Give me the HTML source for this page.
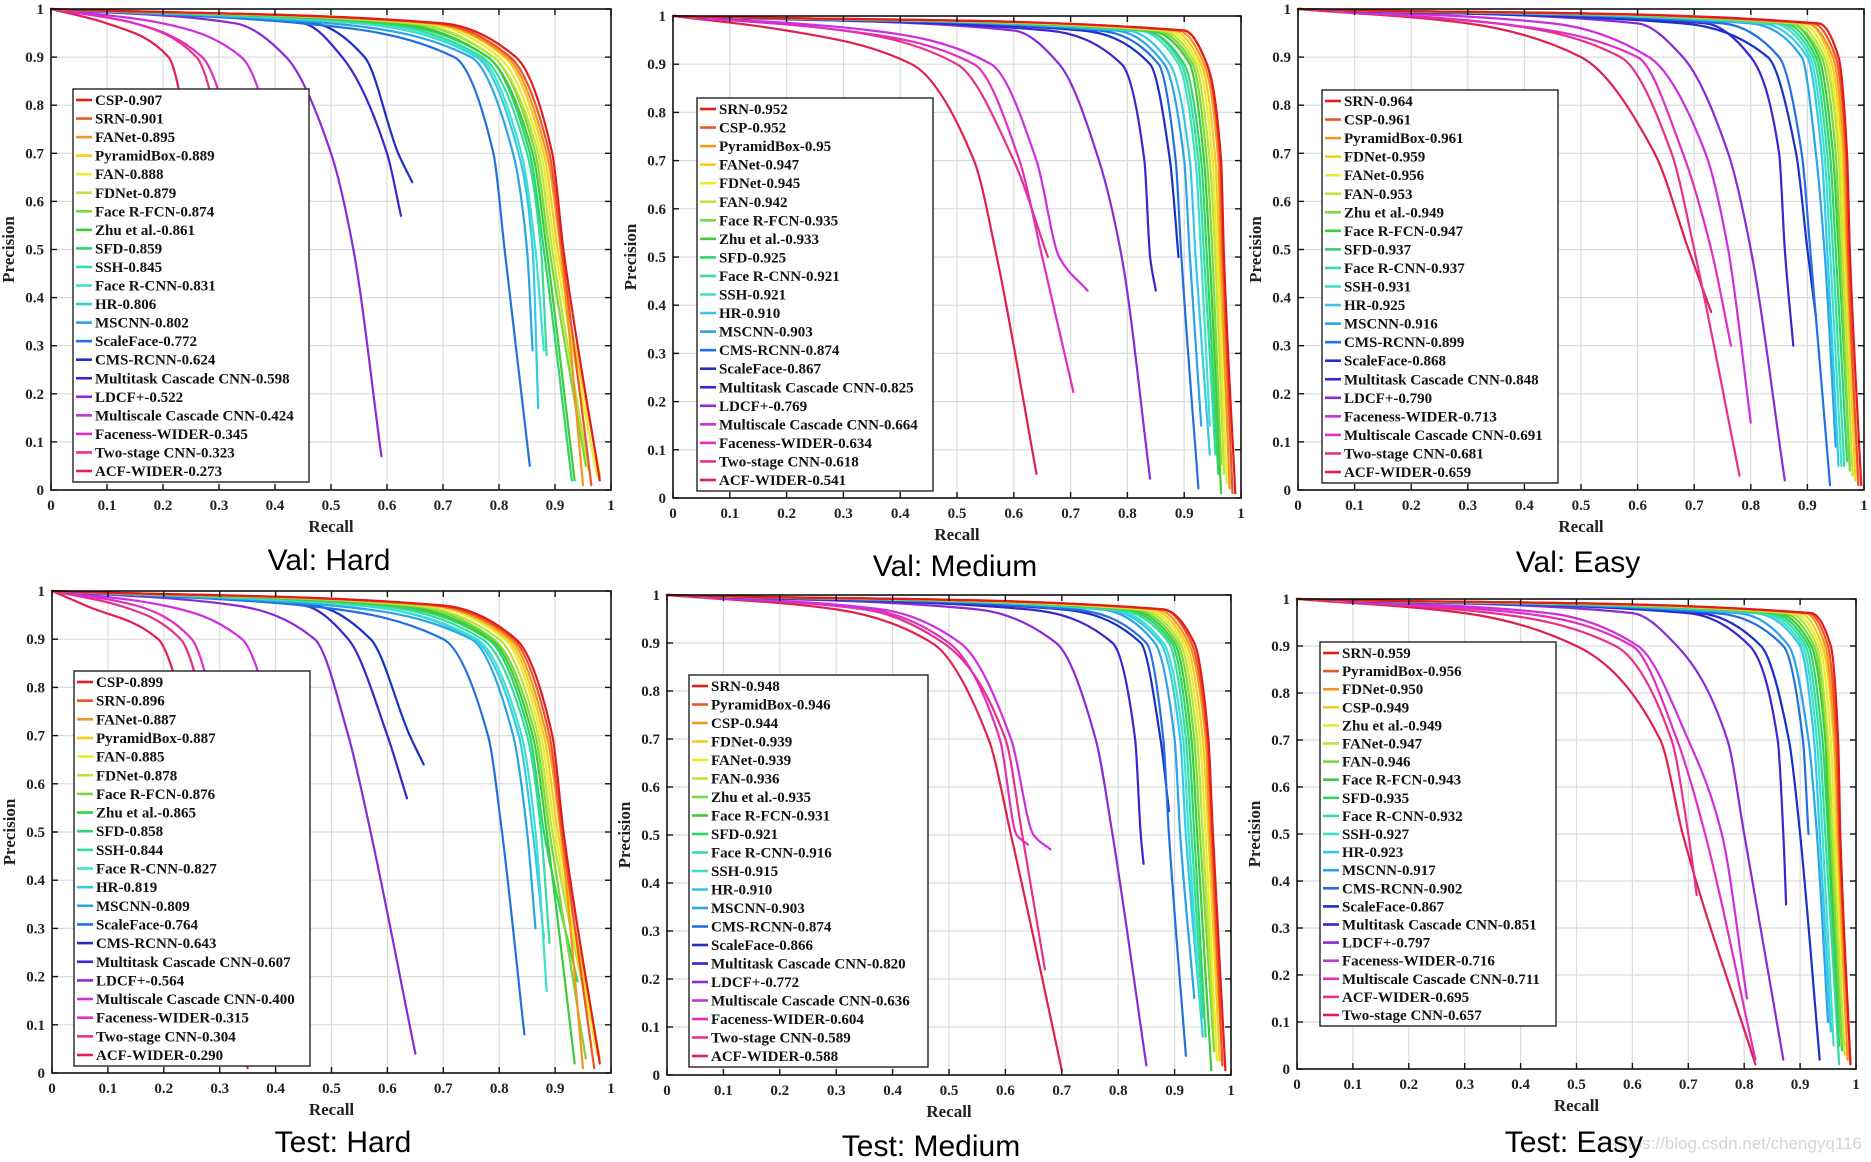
<!DOCTYPE html>
<html><head><meta charset="utf-8"><style>
html,body{margin:0;padding:0;background:#fff;}
svg{display:block;}
.tk{font-family:"Liberation Serif",serif;font-weight:bold;font-size:15px;fill:#222;}
.ax{font-family:"Liberation Serif",serif;font-weight:bold;font-size:17px;fill:#222;}
.lg{font-family:"Liberation Serif",serif;font-weight:bold;font-size:15px;fill:#111;}
.tt{font-family:"Liberation Sans",sans-serif;font-size:30px;fill:#000;}
</style></head><body>
<svg id="fig" xmlns="http://www.w3.org/2000/svg" width="1871" height="1162" viewBox="0 0 1871 1162">
<rect width="1871" height="1162" fill="#fff"/>
<text class="tt" x="1862" y="1149" text-anchor="end" style="font-size:17px;fill:#d4d4d4">https://blog.csdn.net/chengyq116</text>
</svg>
<script>
// ---------- data ----------
const precisionLevels = [0.97, 0.9, 0.7, 0.5];
const tickLabels = ["0","0.1","0.2","0.3","0.4","0.5","0.6","0.7","0.8","0.9","1"];
const rankColors = ["#e41a1c","#e8562a","#f5941e","#f5cc1a","#e8ec2c","#b8e43c","#7cd83a","#3ccc3a","#30d46a","#36dca0","#3ee0cc","#36c8e6","#2aa4e8","#2270e0","#1a30c8","#3c24d0","#8a2ad8","#cc2ee0","#e02ec0","#e8308a","#e0204e"];

// Val: Hard
const valHardNames = ["CSP-0.907","SRN-0.901","FANet-0.895","PyramidBox-0.889","FAN-0.888","FDNet-0.879","Face R-FCN-0.874","Zhu et al.-0.861","SFD-0.859","SSH-0.845","Face R-CNN-0.831","HR-0.806","MSCNN-0.802","ScaleFace-0.772","CMS-RCNN-0.624","Multitask Cascade CNN-0.598","LDCF+-0.522","Multiscale Cascade CNN-0.424","Faceness-WIDER-0.345","Two-stage CNN-0.323","ACF-WIDER-0.273"];
const valHardR97 = [.70,.69,.68,.68,.67,.65,.64,.62,.60,.58,.55,.55,.50,.45,.47,.45,.33,.20,.15,.15,.10];
const valHardR90 = [.83,.82,.815,.81,.80,.79,.79,.78,.78,.77,.765,.76,.75,.72,.56,.52,.42,.34,.27,.26,.21];
const valHardR70 = [.895,.89,.885,.88,.875,.87,.865,.86,.855,.85,.84,.835,.825,.79,.62,.60,.50,.40,.33,.31,.25];
const valHardR50 = [.915,.912,.91,.905,.90,.895,.89,.885,.88,.875,.865,.86,.85,.81,.66,.65,.54,.42,.36,.34,.28];
const valHardEndR = [.98,.965,.95,.98,.975,.96,.955,.935,.93,.885,.88,.87,.86,.855,.645,.625,.59,.45,.40,.38,.32];
const valHardEndP = [.02,.01,.01,.03,.03,.04,.05,.02,.02,.28,.29,.17,.29,.05,.64,.57,.07,.30,.30,.30,.30];

// Val: Medium
const valMedNames = ["SRN-0.952","CSP-0.952","PyramidBox-0.95","FANet-0.947","FDNet-0.945","FAN-0.942","Face R-FCN-0.935","Zhu et al.-0.933","SFD-0.925","Face R-CNN-0.921","SSH-0.921","HR-0.910","MSCNN-0.903","CMS-RCNN-0.874","ScaleFace-0.867","Multitask Cascade CNN-0.825","LDCF+-0.769","Multiscale Cascade CNN-0.664","Faceness-WIDER-0.634","Two-stage CNN-0.618","ACF-WIDER-0.541"];
const valMedR97 = [.90,.90,.89,.88,.87,.86,.85,.84,.83,.83,.82,.80,.78,.75,.72,.66,.60,.35,.30,.30,.20];
const valMedR90 = [.94,.94,.935,.93,.925,.92,.915,.91,.90,.895,.89,.875,.865,.855,.84,.79,.68,.56,.53,.50,.42];
const valMedR70 = [.965,.963,.96,.955,.95,.945,.94,.935,.93,.925,.92,.91,.90,.885,.875,.83,.75,.64,.61,.60,.53];
const valMedR50 = [.97,.968,.965,.962,.958,.955,.95,.945,.94,.935,.93,.92,.91,.895,.885,.84,.79,.68,.65,.63,.57];
const valMedEndR = [.99,.985,.98,.98,.975,.97,.965,.965,.96,.955,.945,.945,.93,.925,.89,.85,.84,.73,.705,.66,.64];
const valMedEndP = [.01,.01,.02,.03,.03,.05,.07,.01,.05,.09,.15,.09,.15,.02,.50,.43,.04,.43,.22,.50,.05];

// Val: Easy
const valEasyNames = ["SRN-0.964","CSP-0.961","PyramidBox-0.961","FDNet-0.959","FANet-0.956","FAN-0.953","Zhu et al.-0.949","Face R-FCN-0.947","SFD-0.937","Face R-CNN-0.937","SSH-0.931","HR-0.925","MSCNN-0.916","CMS-RCNN-0.899","ScaleFace-0.868","Multitask Cascade CNN-0.848","LDCF+-0.790","Faceness-WIDER-0.713","Multiscale Cascade CNN-0.691","Two-stage CNN-0.681","ACF-WIDER-0.659"];
const valEasyR97 = [.92,.91,.90,.90,.89,.88,.87,.87,.86,.85,.84,.82,.80,.75,.68,.72,.60,.45,.35,.35,.30];
const valEasyR90 = [.955,.95,.945,.94,.935,.93,.925,.92,.915,.91,.905,.90,.89,.85,.83,.80,.68,.62,.60,.57,.50];
const valEasyR70 = [.97,.968,.965,.962,.958,.955,.95,.945,.94,.935,.93,.925,.915,.89,.88,.85,.76,.72,.68,.66,.63];
const valEasyR50 = [.975,.972,.97,.968,.965,.962,.958,.955,.95,.945,.94,.935,.93,.905,.90,.86,.80,.76,.73,.70,.69];
const valEasyEndR = [.995,.99,.99,.985,.985,.98,.975,.975,.97,.965,.96,.955,.95,.94,.915,.875,.86,.80,.765,.78,.73];
const valEasyEndP = [.01,.01,.02,.02,.03,.03,.04,.05,.06,.05,.05,.05,.09,.01,.36,.30,.02,.14,.30,.03,.37];

// Test: Hard
const testHardNames = ["CSP-0.899","SRN-0.896","FANet-0.887","PyramidBox-0.887","FAN-0.885","FDNet-0.878","Face R-FCN-0.876","Zhu et al.-0.865","SFD-0.858","SSH-0.844","Face R-CNN-0.827","HR-0.819","MSCNN-0.809","ScaleFace-0.764","CMS-RCNN-0.643","Multitask Cascade CNN-0.607","LDCF+-0.564","Multiscale Cascade CNN-0.400","Faceness-WIDER-0.315","Two-stage CNN-0.304","ACF-WIDER-0.290"];
const testHardR97 = [.70,.69,.68,.68,.67,.65,.64,.62,.60,.58,.55,.55,.50,.45,.47,.45,.33,.20,.15,.12,.06];
const testHardR90 = [.83,.825,.82,.815,.81,.80,.79,.785,.78,.77,.76,.755,.75,.70,.57,.53,.47,.34,.25,.23,.19];
const testHardR70 = [.895,.89,.885,.88,.875,.87,.865,.86,.855,.85,.84,.835,.825,.78,.64,.60,.53,.40,.30,.28,.25];
const testHardR50 = [.915,.912,.91,.905,.90,.895,.89,.885,.88,.875,.865,.86,.85,.805,.66,.63,.57,.43,.33,.30,.30];
const testHardEndR = [.98,.97,.95,.98,.975,.96,.955,.935,.94,.89,.885,.88,.865,.845,.665,.635,.65,.45,.38,.35,.35];
const testHardEndP = [.02,.01,.01,.03,.04,.12,.03,.02,.19,.27,.17,.28,.30,.08,.64,.57,.04,.40,.30,.30,.01];

// Test: Medium
const testMedNames = ["SRN-0.948","PyramidBox-0.946","CSP-0.944","FDNet-0.939","FANet-0.939","FAN-0.936","Zhu et al.-0.935","Face R-FCN-0.931","SFD-0.921","Face R-CNN-0.916","SSH-0.915","HR-0.910","MSCNN-0.903","CMS-RCNN-0.874","ScaleFace-0.866","Multitask Cascade CNN-0.820","LDCF+-0.772","Multiscale Cascade CNN-0.636","Faceness-WIDER-0.604","Two-stage CNN-0.589","ACF-WIDER-0.588"];
const testMedR97 = [.88,.88,.87,.86,.85,.84,.83,.82,.81,.80,.79,.78,.77,.72,.70,.64,.55,.38,.36,.35,.30];
const testMedR90 = [.935,.93,.925,.92,.915,.91,.905,.90,.895,.89,.88,.875,.865,.85,.84,.79,.69,.52,.50,.49,.47];
const testMedR70 = [.96,.958,.955,.95,.945,.94,.935,.93,.925,.92,.915,.91,.90,.88,.875,.83,.76,.61,.59,.60,.57];
const testMedR50 = [.968,.966,.963,.96,.955,.95,.945,.94,.935,.93,.925,.92,.91,.89,.885,.84,.79,.65,.62,.63,.61];
const testMedEndR = [.99,.985,.985,.98,.975,.97,.97,.965,.955,.95,.945,.95,.935,.92,.89,.845,.85,.68,.64,.67,.70];
const testMedEndP = [.01,.02,.02,.03,.03,.09,.05,.01,.08,.12,.14,.08,.16,.04,.55,.44,.02,.47,.48,.22,.01];

// Test: Easy
const testEasyNames = ["SRN-0.959","PyramidBox-0.956","FDNet-0.950","CSP-0.949","Zhu et al.-0.949","FANet-0.947","FAN-0.946","Face R-FCN-0.943","SFD-0.935","Face R-CNN-0.932","SSH-0.927","HR-0.923","MSCNN-0.917","CMS-RCNN-0.902","ScaleFace-0.867","Multitask Cascade CNN-0.851","LDCF+-0.797","Faceness-WIDER-0.716","Multiscale Cascade CNN-0.711","ACF-WIDER-0.695","Two-stage CNN-0.657"];
const testEasyR97 = [.92,.915,.91,.90,.89,.88,.87,.86,.85,.84,.83,.82,.79,.75,.72,.70,.60,.45,.40,.35,.30];
const testEasyR90 = [.955,.95,.945,.94,.935,.93,.925,.92,.915,.91,.905,.90,.88,.87,.83,.81,.68,.61,.60,.57,.50];
const testEasyR70 = [.968,.965,.962,.96,.955,.95,.948,.945,.94,.935,.93,.925,.915,.905,.88,.86,.77,.70,.68,.67,.65];
const testEasyR50 = [.972,.97,.968,.966,.962,.958,.955,.952,.95,.945,.94,.935,.93,.91,.90,.87,.80,.76,.73,.70,.69];
const testEasyEndR = [.99,.99,.985,.985,.985,.98,.975,.975,.97,.97,.96,.955,.95,.915,.935,.875,.87,.805,.82,.715,.82];
const testEasyEndP = [.01,.01,.02,.02,.03,.03,.05,.04,.05,.01,.05,.08,.10,.50,.02,.35,.02,.15,.02,.37,.01];

// ---------- layout (pixels) ----------
const panels = [
  {id:"val-hard", title:"Val: Hard", x0:51,x1:611,y0:490,y1:9, lg:[73,89,236,393], tx:329,ty:570, names:valHardNames,r97:valHardR97,r90:valHardR90,r70:valHardR70,r50:valHardR50,er:valHardEndR,ep:valHardEndP},
  {id:"val-medium", title:"Val: Medium", x0:673,x1:1241,y0:498,y1:16, lg:[697,98,236,393], tx:955,ty:576, names:valMedNames,r97:valMedR97,r90:valMedR90,r70:valMedR70,r50:valMedR50,er:valMedEndR,ep:valMedEndP},
  {id:"val-easy", title:"Val: Easy", x0:1298,x1:1864,y0:490,y1:9, lg:[1322,90,236,393], tx:1578,ty:572, names:valEasyNames,r97:valEasyR97,r90:valEasyR90,r70:valEasyR70,r50:valEasyR50,er:valEasyEndR,ep:valEasyEndP},
  {id:"test-hard", title:"Test: Hard", x0:52,x1:611,y0:1073,y1:591, lg:[74,671,236,395], tx:343,ty:1152, names:testHardNames,r97:testHardR97,r90:testHardR90,r70:testHardR70,r50:testHardR50,er:testHardEndR,ep:testHardEndP},
  {id:"test-medium", title:"Test: Medium", x0:667,x1:1231,y0:1075,y1:595, lg:[689,675,239,392], tx:931,ty:1156, names:testMedNames,r97:testMedR97,r90:testMedR90,r70:testMedR70,r50:testMedR50,er:testMedEndR,ep:testMedEndP},
  {id:"test-easy", title:"Test: Easy", x0:1297,x1:1856,y0:1069,y1:599, lg:[1320,642,236,384], tx:1574,ty:1152, names:testEasyNames,r97:testEasyR97,r90:testEasyR90,r70:testEasyR70,r50:testEasyR50,er:testEasyEndR,ep:testEasyEndP}
];

const NS = "http://www.w3.org/2000/svg";
const fig = document.getElementById("fig");
function mk(tag, attrs, parent){ const e=document.createElementNS(NS,tag); for(const k in attrs) e.setAttribute(k,attrs[k]); parent.appendChild(e); return e; }

// monotone cubic (Fritsch-Carlson) through points with increasing x
function monoPath(pts){
  const n = pts.length;
  const d = [], m = [];
  for(let i=0;i<n-1;i++){ const dx = Math.max(1e-6, pts[i+1][0]-pts[i][0]); d.push((pts[i+1][1]-pts[i][1])/dx); }
  m[0] = d[0]; m[n-1] = d[n-2];
  for(let i=1;i<n-1;i++){
    if(d[i-1]*d[i] <= 0) m[i] = 0;
    else { const w1 = 2*(pts[i+1][0]-pts[i][0]) + (pts[i][0]-pts[i-1][0]); const w2 = (pts[i+1][0]-pts[i][0]) + 2*(pts[i][0]-pts[i-1][0]);
      m[i] = (w1+w2)/(w1/d[i-1] + w2/d[i]); }
  }
  let s = "M"+pts[0][0].toFixed(1)+","+pts[0][1].toFixed(1);
  for(let i=0;i<n-1;i++){
    const h = pts[i+1][0]-pts[i][0];
    s += " C"+(pts[i][0]+h/3).toFixed(1)+","+(pts[i][1]+m[i]*h/3).toFixed(1)+" "+(pts[i+1][0]-h/3).toFixed(1)+","+(pts[i+1][1]-m[i+1]*h/3).toFixed(1)+" "+pts[i+1][0].toFixed(1)+","+pts[i+1][1].toFixed(1);
  }
  return s;
}

panels.forEach(P => {
  const g = mk("g", {}, fig);
  
  
  const sx = r => P.x0 + r*(P.x1-P.x0);
  const sy = p => P.y0 - p*(P.y0-P.y1);
  const grid = mk("g", {stroke:"#dcdcdc","stroke-width":1.2}, g);
  
  
  for(let i=1;i<10;i++){
    mk("line",{x1:sx(i/10),x2:sx(i/10),y1:P.y1,y2:P.y0},grid);
    mk("line",{x1:P.x0,x2:P.x1,y1:sy(i/10),y2:sy(i/10)},grid);
  }
  const cg = mk("g", {fill:"none","stroke-width":2.2,"stroke-linejoin":"round","stroke-linecap":"round"}, g);
  for(let i=P.names.length-1;i>=0;i--){
    const raw = [[0,1],[P.r97[i],precisionLevels[0]],[P.r90[i],precisionLevels[1]]];
    if(precisionLevels[2] > P.ep[i]) raw.push([P.r70[i],precisionLevels[2]]);
    if(precisionLevels[3] > P.ep[i]) raw.push([P.r50[i],precisionLevels[3]]);
    raw.push([P.er[i],P.ep[i]]);
    const pts = raw.map(q => [sx(q[0]), sy(q[1])]);
    const path = mk("path", {d:monoPath(pts), stroke:rankColors[i]}, cg);
    
    
  }
  const box = mk("rect",{x:P.x0,y:P.y1,width:P.x1-P.x0,height:P.y0-P.y1,fill:"none",stroke:"#111","stroke-width":1.6},g);
  
  
  const tg = mk("g",{stroke:"#111","stroke-width":1.4},g);
  for(let i=0;i<=10;i++){
    const x=sx(i/10), y=sy(i/10);
    mk("line",{x1:x,x2:x,y1:P.y0,y2:P.y0-6},tg);
    mk("line",{x1:x,x2:x,y1:P.y1,y2:P.y1+6},tg);
    mk("line",{x1:P.x0,x2:P.x0+6,y1:y,y2:y},tg);
    mk("line",{x1:P.x1,x2:P.x1-6,y1:y,y2:y},tg);
    const xl = mk("text",{class:"tk",x:x,y:P.y0+20,"text-anchor":"middle"},g);
    xl.textContent = tickLabels[i];
    
    
    const yl = mk("text",{class:"tk",x:P.x0-7,y:y+5,"text-anchor":"end"},g);
    yl.textContent = tickLabels[i];
    
    
  }
  const xt = mk("text",{class:"ax",x:(P.x0+P.x1)/2,y:P.y0+42,"text-anchor":"middle"},g);
  xt.textContent="Recall";
  
  
  const yx = P.x0-37, yy=(P.y0+P.y1)/2;
  const yt = mk("text",{class:"ax",x:yx,y:yy,"text-anchor":"middle",transform:"rotate(-90 "+yx+" "+yy+")"},g);
  yt.textContent="Precision";
  
  
  const [lx,ly,lw,lh] = P.lg;
  const lgG = mk("g",{},g);
  
  
  mk("rect",{x:lx,y:ly,width:lw,height:lh,fill:"#fff",stroke:"#222","stroke-width":1.4},lgG);
  const step = (lh-22)/(P.names.length-1);
  P.names.forEach((n,i)=>{
    const y = ly+11+i*step;
    const e = mk("g",{},lgG);
    
    
    mk("line",{x1:lx+3,x2:lx+19,y1:y,y2:y,stroke:rankColors[i],"stroke-width":2.6},e);
    const t = mk("text",{class:"lg",x:lx+22,y:y+5},e);
    t.textContent = n;
  });
  const tt = mk("text",{class:"tt",x:P.tx,y:P.ty,"text-anchor":"middle"},g);
  tt.textContent = P.title;
  
  
});
</script>
</body></html>
